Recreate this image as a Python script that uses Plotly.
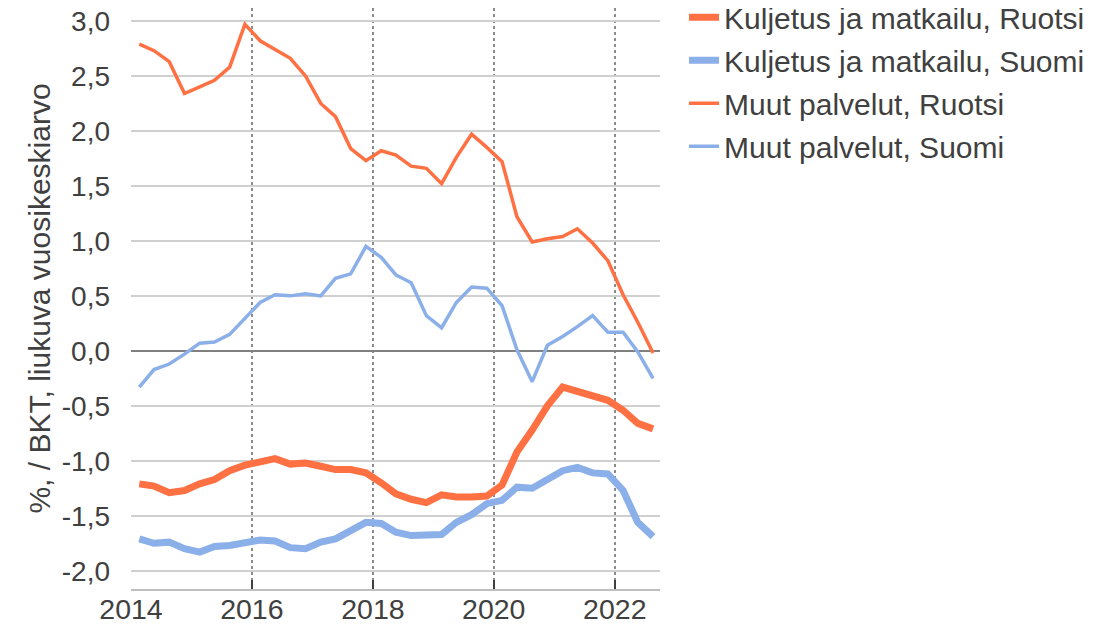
import plotly.graph_objects as go

quarters = [f"{y}Q{q}" for y in range(2014, 2023) for q in range(1, 5)][:35]

kuljetus_ruotsi = [-1.21, -1.23, -1.29, -1.27, -1.21, -1.17, -1.09, -1.04, -1.01, -0.98,
                   -1.03, -1.02, -1.05, -1.08, -1.08, -1.11, -1.20, -1.30, -1.35, -1.38,
                   -1.31, -1.33, -1.33, -1.32, -1.22, -0.92, -0.72, -0.50, -0.33, -0.37,
                   -0.40, -0.45, -0.54, -0.66, -0.71]
kuljetus_suomi = [-1.71, -1.75, -1.74, -1.80, -1.83, -1.78, -1.77, -1.75, -1.72, -1.73,
                  -1.79, -1.80, -1.74, -1.71, -1.64, -1.56, -1.57, -1.65, -1.68, -1.68,
                  -1.67, -1.56, -1.49, -1.39, -1.36, -1.24, -1.25, -1.17, -1.09, -1.06,
                  -1.11, -1.12, -1.27, -1.56, -1.69]
muut_ruotsi = [2.79, 2.73, 2.63, 2.34, 2.40, 2.46, 2.58, 2.97, 2.82, 2.74,
               2.66, 2.50, 2.25, 2.13, 1.84, 1.73, 1.82, 1.78, 1.68, 1.66,
               1.52, 1.76, 1.97, 1.85, 1.72, 1.22, 0.99, 1.02, 1.04, 1.11,
               0.98, 0.82, 0.51, 0.26, -0.02]
muut_suomi = [-0.33, -0.17, -0.12, -0.03, 0.07, 0.08, 0.15, 0.29, 0.44, 0.51,
              0.50, 0.52, 0.50, 0.66, 0.70, 0.95, 0.85, 0.69, 0.62, 0.32,
              0.21, 0.44, 0.58, 0.57, 0.41, 0.01, -0.28, 0.05, 0.13, 0.22,
              0.32, 0.17, 0.17, -0.01, -0.25]

year_ticks = ["2014", "2016", "2018", "2020", "2022"]
y_ticks = [-2.0, -1.5, -1.0, -0.5, 0.0, 0.5, 1.0, 1.5, 2.0, 2.5, 3.0]
y_ticktext = [f"{v:.1f}".replace(".", ",") for v in y_ticks]

ORANGE = "#FF7043"
BLUE = "#8BAFE8"
TXT = "#404040"
FONT = "Liberation Sans, Arial, sans-serif"


def q_to_date(q):
    y, n = q.split("Q")
    month = 3 * (int(n) - 1) + 2
    return f"{y}-{month:02d}-20"


x = [q_to_date(q) for q in quarters]

series = [
    ("Kuljetus ja matkailu, Ruotsi", kuljetus_ruotsi, ORANGE, 7),
    ("Kuljetus ja matkailu, Suomi", kuljetus_suomi, BLUE, 7),
    ("Muut palvelut, Ruotsi", muut_ruotsi, ORANGE, 3.5),
    ("Muut palvelut, Suomi", muut_suomi, BLUE, 3.5),
]

fig = go.Figure()
for name, vals, col, w in series:
    fig.add_trace(go.Scatter(x=x, y=vals, name=name, mode="lines",
                             line=dict(color=col, width=w), legendgroup=name))

# the page body adds an 8px offset, so the figure is 8px smaller than the window
fig.update_layout(
    width=1106, height=618,
    margin=dict(l=123, r=454, t=0, b=37, autoexpand=False),
    paper_bgcolor="white", plot_bgcolor="white",
    font=dict(family=FONT, color=TXT, size=28),
    showlegend=True,
    legend=dict(x=1.0454, y=1.029, xanchor="left", yanchor="top",
                font=dict(size=30, color=TXT, family=FONT),
                itemwidth=30, tracegroupgap=1, bgcolor="rgba(0,0,0,0)"),
    xaxis=dict(
        type="date", automargin=False,
        range=["2014-01-01", "2022-10-01"],
        tickvals=[f"{y}-01-01" for y in year_ticks],
        ticktext=year_ticks,
        showgrid=True, gridcolor="#8C8C8C", griddash="dot", gridwidth=2,
        showline=True, linecolor="#BFBFBF", linewidth=2,
        ticks="inside", ticklen=9, tickcolor="#404040", tickwidth=2,
        tickfont=dict(size=28.5, color=TXT),
        ticklabelstandoff=-6, ticklabeloverflow="allow",
        zeroline=False,
    ),
    yaxis=dict(
        automargin=False,
        range=[-2.166, 3.118],
        tickvals=y_ticks, ticktext=y_ticktext,
        showgrid=True, gridcolor="#D0D0D0", gridwidth=1.5,
        zeroline=True, zerolinecolor="#808080", zerolinewidth=2,
        showline=False, ticks="",
        ticklabelstandoff=20, ticklabeloverflow="allow",
        tickfont=dict(size=28, color=TXT),
        title=dict(text="%, / BKT, liukuva vuosikeskiarvo",
                   font=dict(size=30, color=TXT), standoff=2),
    ),
)

fig.write_html("out.html")
